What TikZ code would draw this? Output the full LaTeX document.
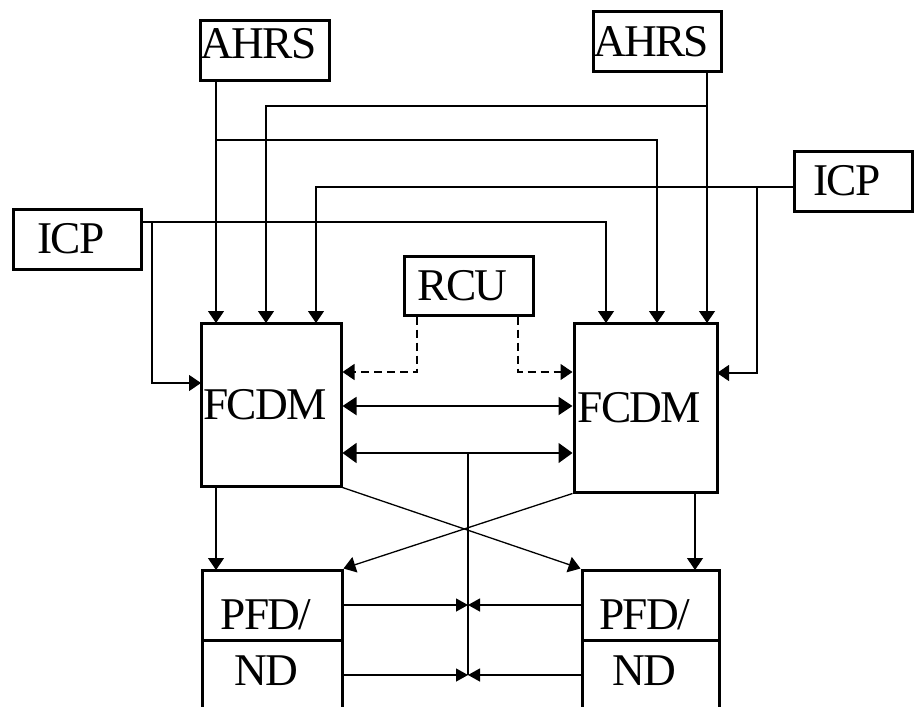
\documentclass[tikz,border=0pt]{standalone}
\usepackage{fontspec}
\setmainfont{Liberation Serif}[LetterSpace=-4]
\usetikzlibrary{arrows.meta}
\begin{document}
\begin{tikzpicture}[x=0.5pt,y=-0.5pt,
  unit/.style={draw, line width=1.5pt, inner sep=0pt, font=\fontsize{22.7}{27}\selectfont,
    execute at end node=\hspace{6pt}},
  wire/.style={line width=0.65pt},
  feed/.style={wire, -{Triangle[length=6pt,width=8pt]}},
  ctrl/.style={wire, dash pattern=on 4pt off 2.5pt, -{Triangle[length=6pt,width=8pt]}},
  duplex/.style={line width=1pt, {Triangle[length=7pt,width=9pt]}-{Triangle[length=7pt,width=9pt]}},
  link/.style={wire, -{Triangle[length=7pt,width=10pt]}},
  tap/.style={wire, -{Triangle[length=6pt,width=6.5pt]}}]
\clip (0,0) rectangle (914,706);
% units
\node[unit, minimum width=64.5pt, minimum height=30pt, text height=19pt, text depth=11pt] (ahrsL) at (264.5,51) {AHRS};
\node[unit, minimum width=64pt, minimum height=30pt] (ahrsR) at (657,42) {AHRS};
\node[unit, minimum width=64pt, minimum height=30pt] (icpL) at (77,239) {ICP};
\node[unit, minimum width=59pt, minimum height=30pt] (icpR) at (853,181) {ICP};
\node[unit, minimum width=64.5pt, minimum height=29.5pt] (rcu) at (468.5,285.5) {RCU};
\node[unit, minimum width=70pt, minimum height=81.5pt] (fcdmL) at (271,404.5) {FCDM};
\node[unit, minimum width=71.5pt, minimum height=84.5pt] (fcdmR) at (645.5,407.5) {FCDM};
\node[unit, minimum width=70pt, minimum height=35pt, text height=29.5pt, text depth=5.5pt] (pfdL) at (272,605) {PFD/};
\node[unit, minimum width=70pt, minimum height=35pt, text height=22.5pt, text depth=12.5pt] (ndL) at (272,675) {ND};
\node[unit, minimum width=68.5pt, minimum height=35pt, text height=29.5pt, text depth=5.5pt] (pfdR) at (650.5,605) {PFD/};
\node[unit, minimum width=68.5pt, minimum height=35pt, text height=22.5pt, text depth=12.5pt] (ndR) at (650.5,675) {ND};
% ports and taps
\coordinate (inL1) at (216,323);
\coordinate (inL2) at (266,323);
\coordinate (inL3) at (316,323);
\coordinate (inR1) at (606,323);
\coordinate (inR2) at (657,323);
\coordinate (inR3) at (707,323);
\coordinate (sideL) at (201,383);
\coordinate (sideR) at (717,373);
\coordinate (tapA) at (216,140);
\coordinate (tapB) at (707,106);
\coordinate (tapC) at (757,187);
\coordinate (tapD) at (152,222);
\coordinate (dashL) at (417,372);
\coordinate (dashR) at (518,372);
\coordinate (link1) at (468,406);
\coordinate (link2) at (468,453);
\coordinate (outL) at (216,570);
\coordinate (outR) at (695,570);
\coordinate (busA) at (468,605);
\coordinate (busB) at (468,675);
% sensors and panels to FCDM
\draw[feed] (ahrsL.south -| inL1) -- (inL1);
\draw[feed] (tapA) -| (inR2);
\draw[feed] (ahrsR.south -| inR3) -- (inR3);
\draw[feed] (tapB) -| (inL2);
\draw[feed] (icpR.west |- tapC) -| (inL3);
\draw[feed] (tapC) |- (sideR);
\draw[feed] (icpL.east |- tapD) -| (inR1);
\draw[feed] (tapD) |- (sideL);
\draw[ctrl] (rcu.south -| dashL) -- (dashL) -- (fcdmL.east |- dashL);
\draw[ctrl] (rcu.south -| dashR) -- (dashR) -- (fcdmR.west |- dashR);
% cross links
\draw[duplex] (fcdmL.east |- link1) -- (fcdmR.west |- link1);
\draw[link] (link2) -- (fcdmL.east |- link2);
\draw[link] (link2) -- (fcdmR.west |- link2);
\draw[wire] (link2) -- (busB);
% FCDM to displays
\draw[feed] (fcdmL.south -| outL) -- (outL);
\draw[feed] (fcdmR.south -| outR) -- (outR);
\draw[feed] (fcdmL.south east) -- (pfdR.north west);
\draw[feed] (fcdmR.south west) -- (pfdL.north east);
\draw[tap] (pfdL.east) -- (busA);
\draw[tap] (pfdR.west) -- (busA);
\draw[tap] (ndL.east) -- (busB);
\draw[tap] (ndR.west) -- (busB);
\end{tikzpicture}
\end{document}
